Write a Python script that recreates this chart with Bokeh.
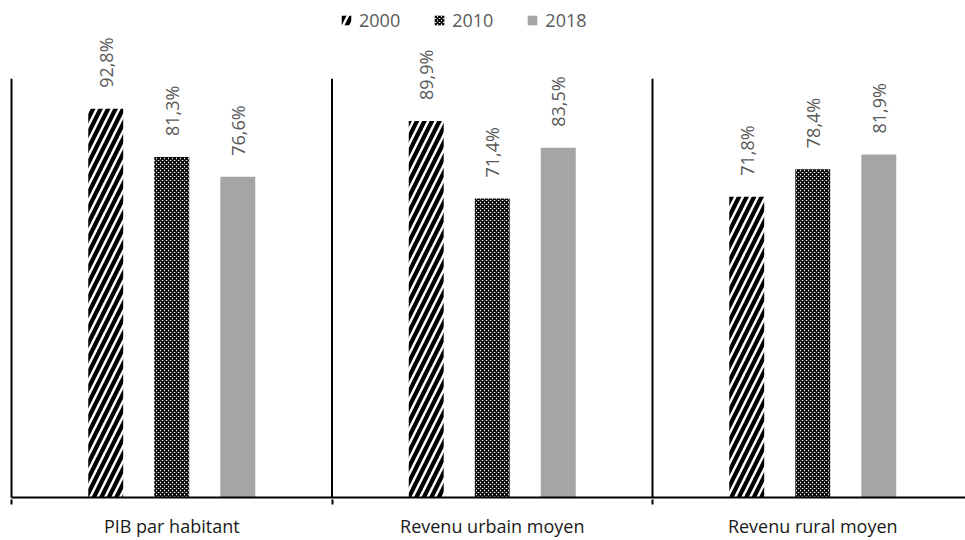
import math

from bokeh.core.properties import value
from bokeh.embed import file_html
from bokeh.models import ColumnDataSource, FixedTicker, Legend, LegendItem, Range1d
from bokeh.plotting import figure
from bokeh.resources import INLINE

# --- data -------------------------------------------------------------
categories = ["PIB par habitant", "Revenu urbain moyen", "Revenu rural moyen"]
years = ["2000", "2010", "2018"]
v2000 = [92.8, 89.9, 71.8]
v2010 = [81.3, 71.4, 78.4]
v2018 = [76.6, 83.5, 81.9]
series = [v2000, v2010, v2018]

# --- geometry ---------------------------------------------------------
W, H = 965, 540
CAT_PX = 320.5          # pixel width of one category slot
LEFT_PX = 11            # where the first slot starts
BASE_PX = 502           # baseline of the bars
FRAME_BOTTOM = 504
PX_PER_UNIT = 4.23      # vertical pixels per percentage point

x_start = -LEFT_PX / CAT_PX
x_end = (W - LEFT_PX) / CAT_PX
y_start = -(FRAME_BOTTOM - BASE_PX) / PX_PER_UNIT
y_end = BASE_PX / PX_PER_UNIT

p = figure(
    width=W, height=H,
    output_backend="svg", toolbar_location=None,
    x_range=Range1d(x_start, x_end), y_range=Range1d(y_start, y_end),
    min_border_left=0, min_border_right=0, min_border_top=0,
    min_border_bottom=H - FRAME_BOTTOM,
)
p.outline_line_color = None
p.grid.visible = False
p.yaxis.visible = False
p.background_fill_color = "white"
p.border_fill_color = "white"

FONT = value("Open Sans")
n_cat = len(categories)
offsets = [-0.206, 0.0, 0.206]
bar_w = 0.109

styles = [
    dict(fill_color="white", hatch_pattern="right_diagonal_line", hatch_color="black",
         hatch_scale=15, hatch_weight=4.2),
    dict(fill_color="white", hatch_pattern="diagonal_cross", hatch_color="black",
         hatch_scale=4, hatch_weight=1.7),
    dict(fill_color="#A5A5A5"),
]

items = []
for year, vals, off, st in zip(years, series, offsets, styles):
    xs = [i + 0.5 + off for i in range(n_cat)]
    src = ColumnDataSource(dict(
        x=xs, top=vals,
        label=[f"{v:.1f}".replace(".", ",") + "%" for v in vals],
    ))
    r = p.vbar(x="x", top="top", bottom=0, width=bar_w, source=src,
               line_color=None, **st)
    items.append(LegendItem(label=year, renderers=[r]))
    p.text(x="x", y="top", text="label", source=src, angle=math.pi / 2,
           text_align="left", text_baseline="middle", y_offset=-21,
           text_font=FONT, text_font_size="18px", text_color="#595959")

# baseline, left edge and category separators
p.segment(x0=[0], y0=[0], x1=[n_cat], y1=[0], line_color="black", line_width=2)
p.segment(x0=list(range(n_cat)), y0=[0] * n_cat, x1=list(range(n_cat)),
          y1=[100] * n_cat, line_color="black", line_width=2)

# category axis: labels centred in each slot, short ticks at slot borders
ax = p.xaxis[0]
ax.ticker = FixedTicker(ticks=[i + 0.5 for i in range(n_cat)],
                        minor_ticks=list(range(n_cat + 1)))
ax.major_label_overrides = {i + 0.5: c for i, c in enumerate(categories)}
ax.axis_line_color = None
ax.major_tick_line_color = None
ax.major_tick_out = 0
ax.major_tick_in = 0
ax.minor_tick_line_color = "black"
ax.minor_tick_line_width = 2
ax.minor_tick_out = 5
ax.minor_tick_in = 0
ax.major_label_standoff = 9
ax.major_label_text_font = "Open Sans"
ax.major_label_text_font_size = "18px"
ax.major_label_text_color = "#1a1a1a"

legend = Legend(
    items=items, orientation="horizontal",
    location=(340, FRAME_BOTTOM - 37),
    padding=0, margin=0, spacing=33,
    glyph_width=12, glyph_height=12, label_standoff=7, label_height=20,
    label_text_font="Open Sans", label_text_font_size="18px",
    label_text_color="#595959",
    border_line_color=None, background_fill_alpha=0,
)
p.add_layout(legend, "center")

open("out.html", "w").write(file_html(p, INLINE))
